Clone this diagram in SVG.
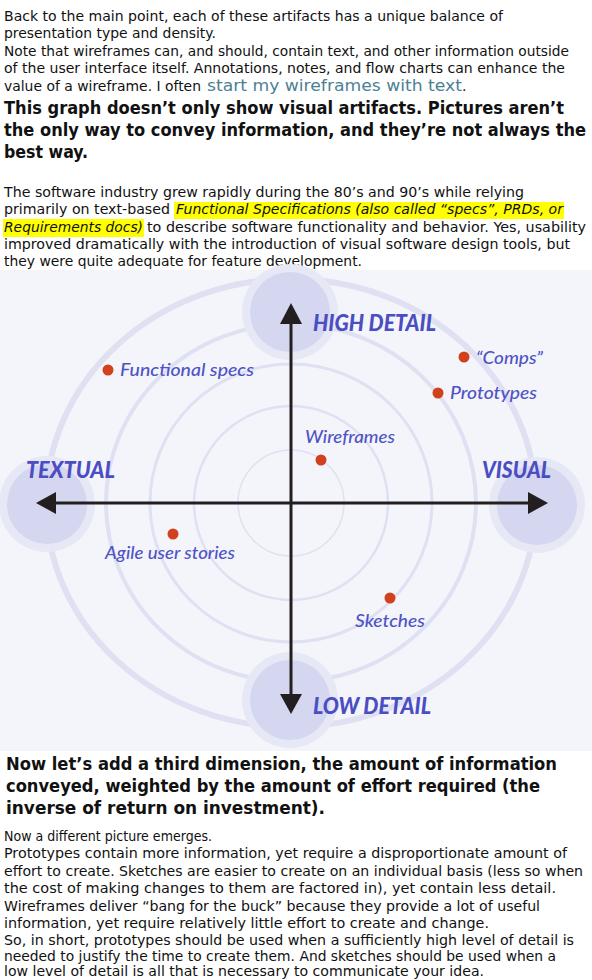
<svg xmlns="http://www.w3.org/2000/svg" width="592" height="980" viewBox="0 0 592 980">
  <style>
    .body { font-family: "DejaVu Sans", "Liberation Sans", sans-serif; font-size: 14px; fill: #111111; }
    .it { font-style: italic; }
    .head { font-family: "DejaVu Sans Condensed", "DejaVu Sans", "Liberation Sans", sans-serif; font-size: 17.5px; font-weight: bold; fill: #111111; }
    .link { font-family: "DejaVu Sans", "Liberation Sans", sans-serif; font-size: 16px; fill: #4b8193; }
    .hl { fill: #ffff00; }
    .ring { fill: none; stroke: #dfe0f2; }
    .halo { fill: #e7e8f6; }
    .pole { fill: #d5d6ef; }
    .axis { stroke: #231f20; stroke-width: 3; fill: none; }
    .tip { fill: #231f20; }
    .big { font-family: Lato, "Liberation Sans", sans-serif; font-size: 22px; font-weight: 900; font-style: italic; fill: #4a4ec2; }
    .lbl { font-family: Lato, "Liberation Sans", sans-serif; font-size: 18px; font-weight: 500; font-style: italic; fill: #4e53c6; }
    .dot { fill: #d1411d; }
  </style>

  <rect width="592" height="980" fill="#ffffff"/>

  <!-- opening paragraph -->
  <g id="intro">
    <text class="body" x="4" y="21" textLength="499" lengthAdjust="spacingAndGlyphs">Back to the main point, each of these artifacts has a unique balance of</text>
    <text class="body" x="4" y="38" textLength="212" lengthAdjust="spacingAndGlyphs">presentation type and density.</text>
    <text class="body" x="4" y="56" textLength="565" lengthAdjust="spacingAndGlyphs">Note that wireframes can, and should, contain text, and other information outside</text>
    <text class="body" x="4" y="73" textLength="561" lengthAdjust="spacingAndGlyphs">of the user interface itself. Annotations, notes, and flow charts can enhance the</text>
    <text class="body" x="4" y="91" textLength="197" lengthAdjust="spacingAndGlyphs">value of a wireframe. I often</text>
    <text class="link" x="207" y="91" textLength="255" lengthAdjust="spacingAndGlyphs">start my wireframes with text</text>
    <text class="body" x="462" y="91">.</text>
  </g>

  <g id="heading-1">
    <text class="head" x="4" y="114" textLength="560" lengthAdjust="spacingAndGlyphs">This graph doesn’t only show visual artifacts. Pictures aren’t</text>
    <text class="head" x="4" y="136" textLength="582" lengthAdjust="spacingAndGlyphs">the only way to convey information, and they’re not always the</text>
    <text class="head" x="4" y="158" textLength="84" lengthAdjust="spacingAndGlyphs">best way.</text>
  </g>

  <g id="history">
    <rect class="hl" x="174" y="202" width="390" height="17"/>
    <rect class="hl" x="3" y="219" width="141" height="18"/>
    <text class="body" x="4" y="197" textLength="520" lengthAdjust="spacingAndGlyphs">The software industry grew rapidly during the 80’s and 90’s while relying</text>
    <text class="body" x="4" y="214" textLength="166" lengthAdjust="spacingAndGlyphs">primarily on text-based</text>
    <text class="body it" x="176" y="214" textLength="387" lengthAdjust="spacingAndGlyphs">Functional Specifications (also called “specs”, PRDs, or</text>
    <text class="body it" x="4" y="232" textLength="139" lengthAdjust="spacingAndGlyphs">Requirements docs)</text>
    <text class="body" x="147" y="232" textLength="439" lengthAdjust="spacingAndGlyphs">to describe software functionality and behavior. Yes, usability</text>
    <text class="body" x="4" y="249" textLength="566" lengthAdjust="spacingAndGlyphs">improved dramatically with the introduction of visual software design tools, but</text>
    <text class="body" x="4" y="266" textLength="358" lengthAdjust="spacingAndGlyphs">they were quite adequate for feature development.</text>
  </g>

  <!-- chart: detail vs. presentation type -->
  <g id="chart">
    <rect x="0" y="270" width="592" height="481" fill="#f4f5fa"/>
    <g id="rings">
      <ellipse class="ring" cx="291" cy="503" rx="53" ry="53" stroke-width="1.5"/>
      <ellipse class="ring" cx="291" cy="503" rx="97" ry="97" stroke-width="2.5"/>
      <ellipse class="ring" cx="291" cy="503" rx="141" ry="139" stroke-width="3"/>
      <ellipse class="ring" cx="291" cy="503" rx="185" ry="179" stroke-width="4"/>
      <ellipse class="ring" cx="291" cy="503" rx="245" ry="224" stroke-width="6"/>
    </g>
    <g id="poles">
      <circle class="halo" cx="290" cy="312" r="48"/>
      <circle class="pole" cx="290" cy="312" r="40"/>
      <circle class="halo" cx="290" cy="700" r="48"/>
      <circle class="pole" cx="290" cy="700" r="40"/>
      <circle class="halo" cx="47" cy="504" r="48"/>
      <circle class="pole" cx="47" cy="504" r="40"/>
      <circle class="halo" cx="537" cy="505" r="48"/>
      <circle class="pole" cx="537" cy="505" r="40"/>
    </g>

    <g id="connectors">
      <line class="axis" x1="291" y1="320" x2="291" y2="697"/>
      <line class="axis" x1="53" y1="503" x2="531" y2="503"/>
      <polygon class="tip" points="291,303 280,324 302,324"/>
      <polygon class="tip" points="291,714 280,694 302,694"/>
      <polygon class="tip" points="36,503 56,492 56,514"/>
      <polygon class="tip" points="548,503 528,492 528,514"/>
    </g>

    <g id="high-detail"><text class="big" x="313" y="331" textLength="123" lengthAdjust="spacingAndGlyphs">HIGH DETAIL</text></g>
    <g id="low-detail"><text class="big" x="313" y="714" textLength="118" lengthAdjust="spacingAndGlyphs">LOW DETAIL</text></g>
    <g id="textual"><text class="big" x="26" y="478" textLength="89" lengthAdjust="spacingAndGlyphs">TEXTUAL</text></g>
    <g id="visual"><text class="big" x="482" y="478" textLength="69" lengthAdjust="spacingAndGlyphs">VISUAL</text></g>

    <g id="functional-specs">
      <circle class="dot" cx="108" cy="370" r="5.5"/>
      <text class="lbl" x="120" y="376" textLength="134" lengthAdjust="spacingAndGlyphs">Functional specs</text>
    </g>
    <g id="comps">
      <circle class="dot" cx="464" cy="357" r="5.5"/>
      <text class="lbl" x="476" y="364" textLength="67" lengthAdjust="spacingAndGlyphs">“Comps”</text>
    </g>
    <g id="prototypes">
      <circle class="dot" cx="438" cy="393" r="5.5"/>
      <text class="lbl" x="450" y="399" textLength="87" lengthAdjust="spacingAndGlyphs">Prototypes</text>
    </g>
    <g id="wireframes">
      <circle class="dot" cx="321" cy="460" r="5.5"/>
      <text class="lbl" x="305" y="443" textLength="90" lengthAdjust="spacingAndGlyphs">Wireframes</text>
    </g>
    <g id="agile-user-stories">
      <circle class="dot" cx="173" cy="534" r="5.5"/>
      <text class="lbl" x="105" y="559" textLength="130" lengthAdjust="spacingAndGlyphs">Agile user stories</text>
    </g>
    <g id="sketches">
      <circle class="dot" cx="390" cy="598" r="5.5"/>
      <text class="lbl" x="355" y="627" textLength="70" lengthAdjust="spacingAndGlyphs">Sketches</text>
    </g>
  </g>

  <g id="heading-2">
    <text class="head" x="6" y="770" textLength="551" lengthAdjust="spacingAndGlyphs">Now let’s add a third dimension, the amount of information</text>
    <text class="head" x="6" y="792" textLength="534" lengthAdjust="spacingAndGlyphs">conveyed, weighted by the amount of effort required (the</text>
    <text class="head" x="6" y="814" textLength="319" lengthAdjust="spacingAndGlyphs">inverse of return on investment).</text>
  </g>

  <g id="summary">
    <text class="body" x="4" y="841" textLength="208" lengthAdjust="spacingAndGlyphs">Now a different picture emerges.</text>
    <text class="body" x="4" y="858" textLength="563" lengthAdjust="spacingAndGlyphs">Prototypes contain more information, yet require a disproportionate amount of</text>
    <text class="body" x="4" y="876" textLength="579" lengthAdjust="spacingAndGlyphs">effort to create. Sketches are easier to create on an individual basis (less so when</text>
    <text class="body" x="4" y="893" textLength="552" lengthAdjust="spacingAndGlyphs">the cost of making changes to them are factored in), yet contain less detail.</text>
    <text class="body" x="4" y="911" textLength="536" lengthAdjust="spacingAndGlyphs">Wireframes deliver “bang for the buck” because they provide a lot of useful</text>
    <text class="body" x="4" y="928" textLength="485" lengthAdjust="spacingAndGlyphs">information, yet require relatively little effort to create and change.</text>
    <text class="body" x="4" y="945" textLength="570" lengthAdjust="spacingAndGlyphs">So, in short, prototypes should be used when a sufficiently high level of detail is</text>
    <text class="body" x="4" y="961" textLength="552" lengthAdjust="spacingAndGlyphs">needed to justify the time to create them. And sketches should be used when a</text>
    <text class="body" x="4" y="976" textLength="480" lengthAdjust="spacingAndGlyphs">low level of detail is all that is necessary to communicate your idea.</text>
  </g>
</svg>
